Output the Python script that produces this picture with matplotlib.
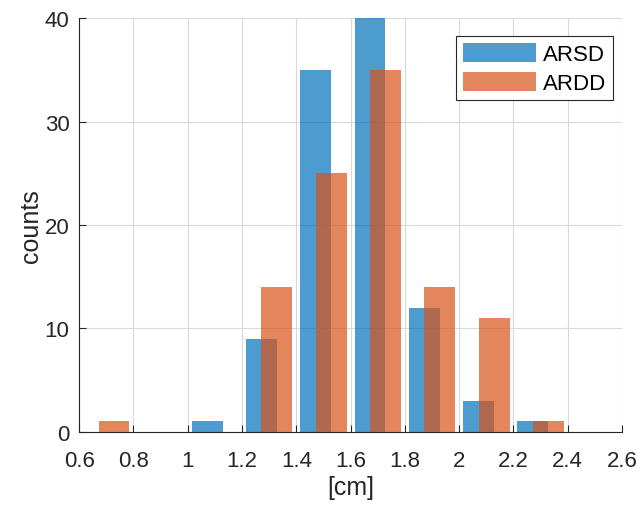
import matplotlib
matplotlib.use("Agg")
import matplotlib.pyplot as plt
import numpy as np

bin_centers = [0.7, 0.9, 1.1, 1.3, 1.5, 1.7, 1.9, 2.1, 2.3, 2.5]
arsd_counts = [0, 0, 1, 9, 35, 40, 12, 3, 1, 0]
ardd_counts = [1, 0, 0, 14, 25, 35, 14, 11, 1, 0]
labels = ["ARSD", "ARDD"]
xticks = [0.6, 0.8, 1.0, 1.2, 1.4, 1.6, 1.8, 2.0, 2.2, 2.4, 2.6]
xticklabels = ["0.6", "0.8", "1", "1.2", "1.4", "1.6", "1.8", "2", "2.2", "2.4", "2.6"]
yticks = [0, 10, 20, 30, 40]

plt.rcParams['font.family'] = ['Liberation Sans', 'DejaVu Sans']

fig = plt.figure(figsize=(6.38, 5.06), dpi=100)
ax = fig.add_axes([0.124, 0.145, 0.851, 0.817])

c_blue = (0.0, 0.447, 0.741)
c_orange = (0.85, 0.325, 0.098)
off = 0.0285
w = 0.114
x = np.array(bin_centers)
ax.bar(x - off, arsd_counts, width=w, color=c_blue, alpha=0.7, label=labels[0], zorder=2, linewidth=0)
ax.bar(x + off, ardd_counts, width=w, color=c_orange, alpha=0.7, label=labels[1], zorder=3, linewidth=0)

ax.set_xlim(0.6, 2.6)
ax.set_ylim(0, 40)
ax.set_xticks(xticks)
ax.set_xticklabels(xticklabels)
ax.set_yticks(yticks)
ax.grid(True, color='#d9d9d9', linewidth=0.8, zorder=0)
ax.set_axisbelow(True)
for s in ['top', 'right']:
    ax.spines[s].set_visible(False)
for s in ['left', 'bottom']:
    ax.spines[s].set_color('#262626')
    ax.spines[s].set_linewidth(0.8)
ax.tick_params(direction='in', colors='#262626', labelsize=16, length=5, width=0.8)
ax.tick_params(axis='x', pad=13)
ax.tick_params(axis='y', pad=7)
ax.set_xlabel('[cm]', fontsize=18, color='#262626', labelpad=3)
ax.set_ylabel('counts', fontsize=18, color='#262626', labelpad=1)

leg = ax.legend(loc='upper right', bbox_to_anchor=(0.983, 0.957), borderaxespad=0, fontsize=16,
                fancybox=False, framealpha=1, edgecolor='#262626', handlelength=3.3,
                handleheight=0.95, borderpad=0.3, labelspacing=0.3, handletextpad=0.3)
leg.get_frame().set_linewidth(0.8)

fig.savefig('out.png', dpi=100)
